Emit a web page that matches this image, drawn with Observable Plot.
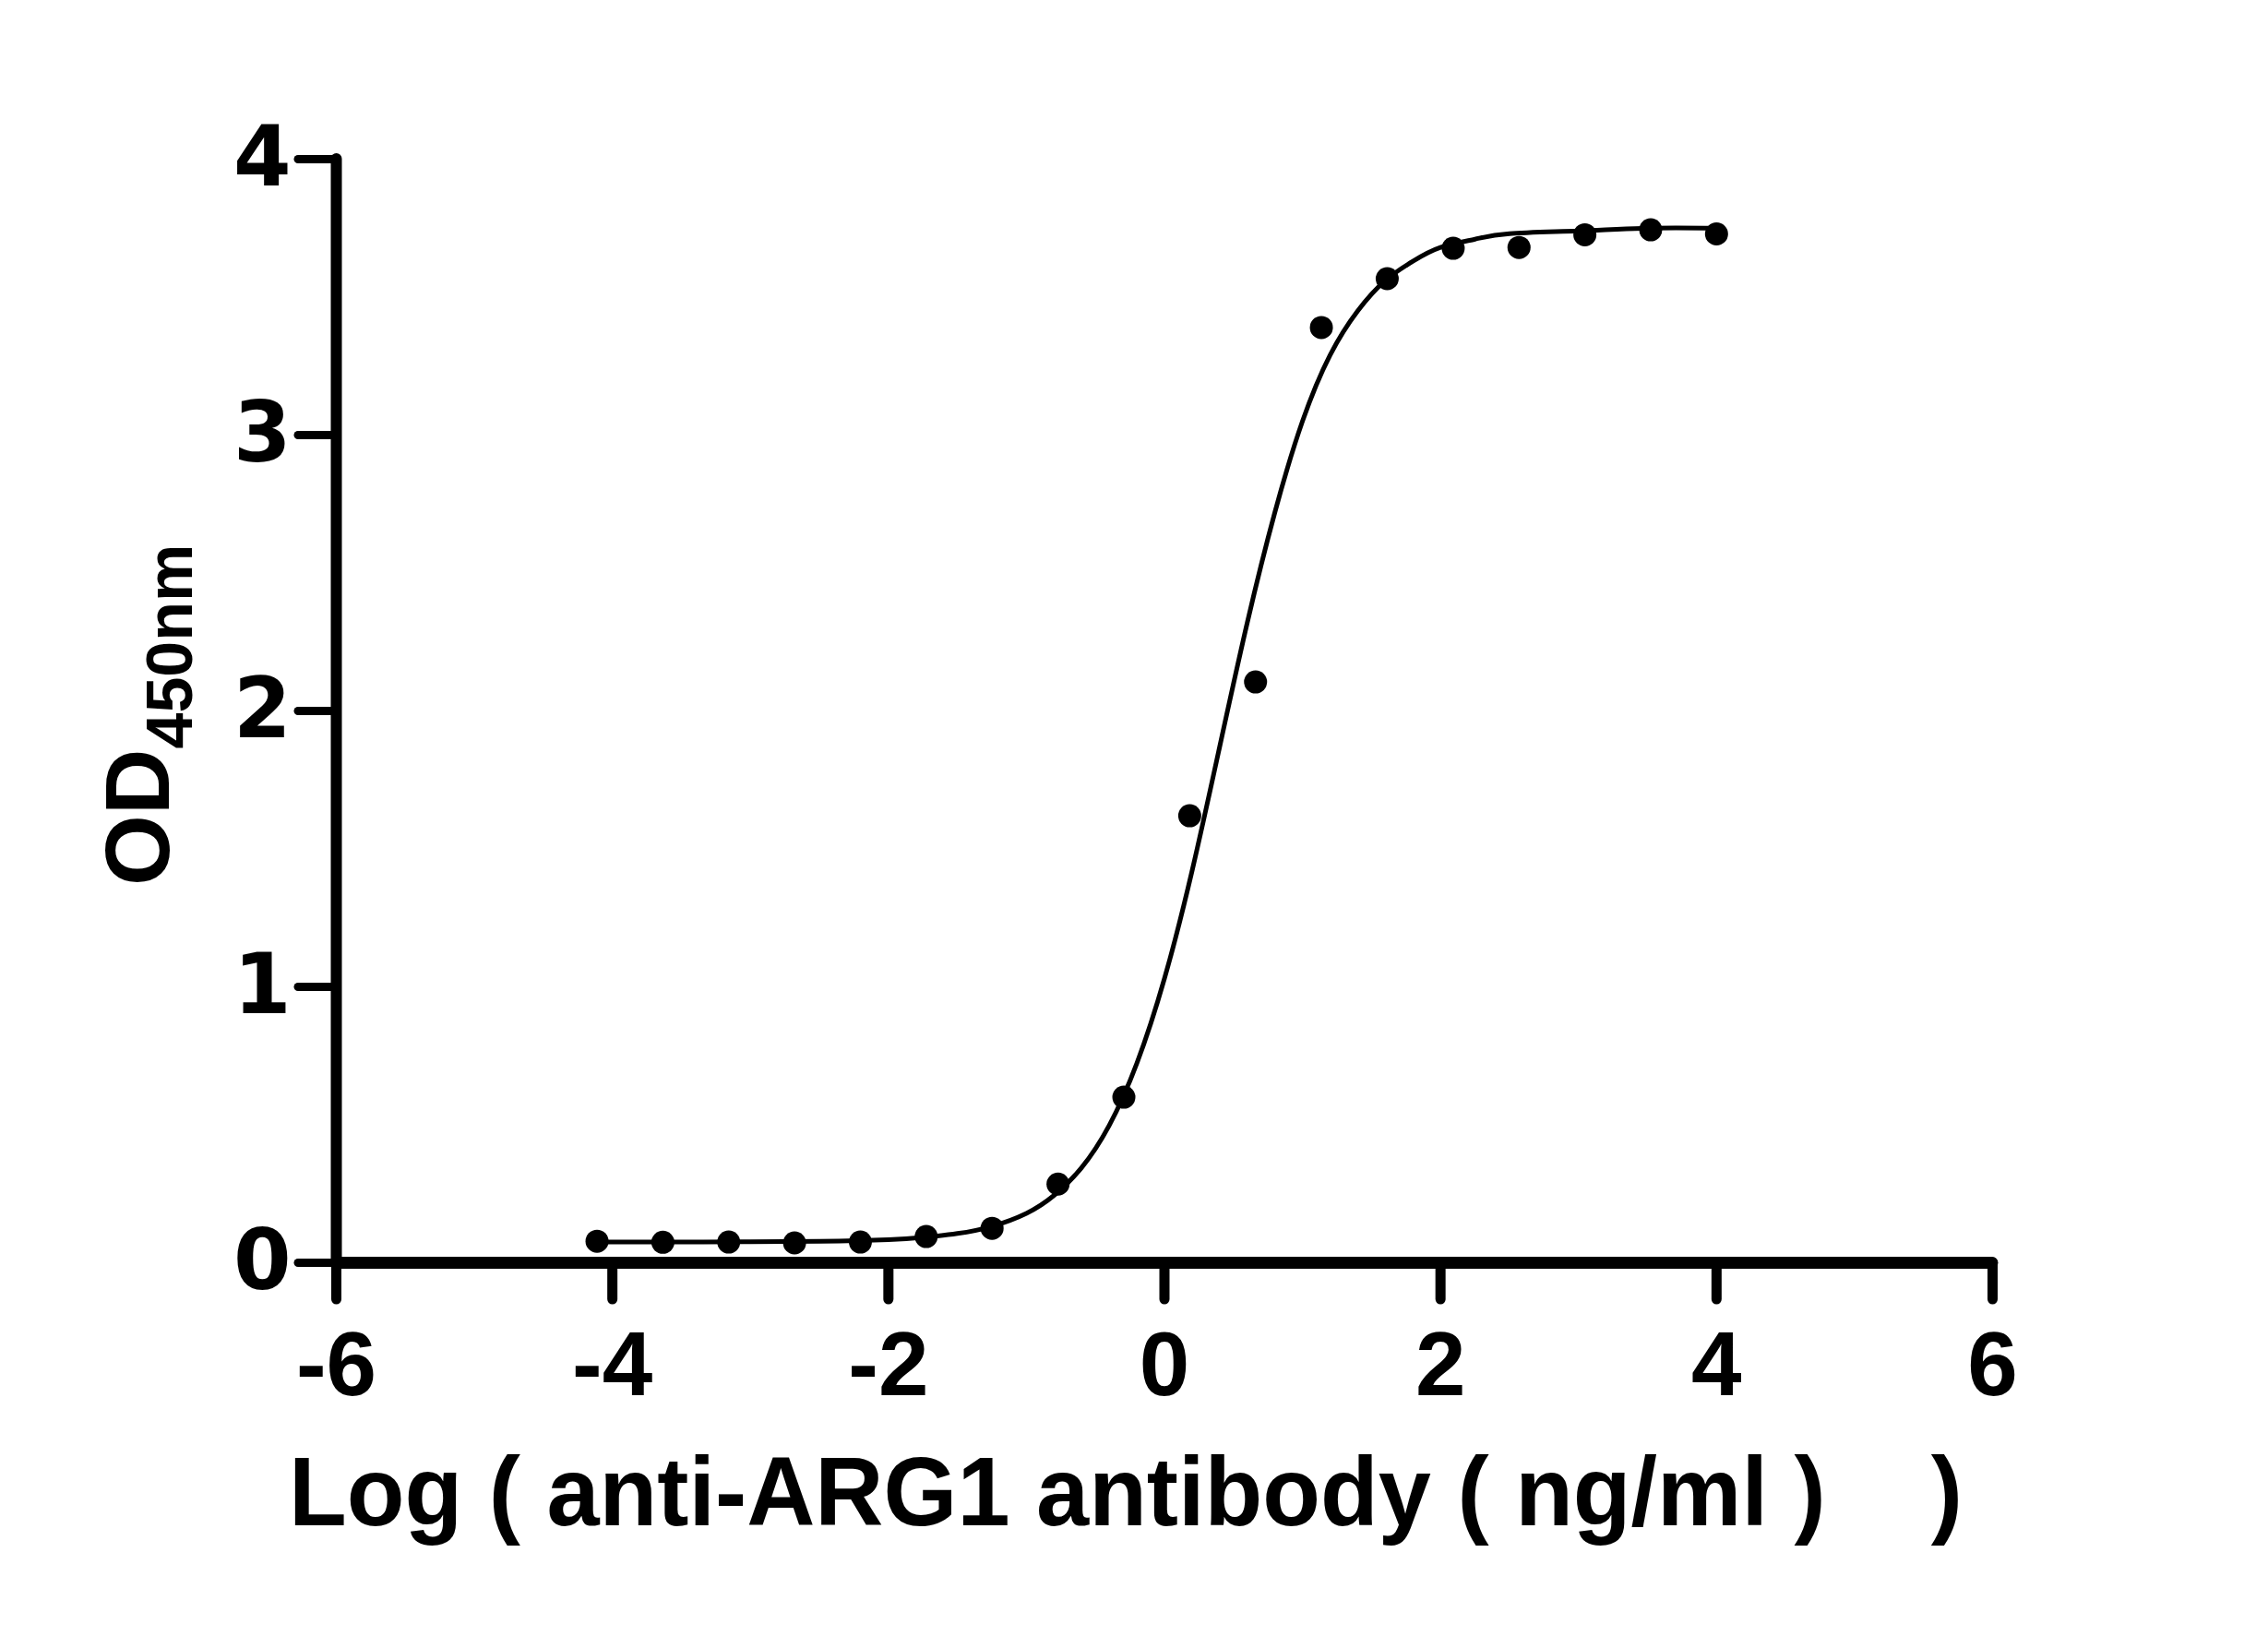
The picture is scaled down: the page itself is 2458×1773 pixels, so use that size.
<!DOCTYPE html>
<html>
<head>
<meta charset="utf-8">
<script src="https://cdn.jsdelivr.net/npm/d3@7"></script>
<script src="https://cdn.jsdelivr.net/npm/@observablehq/plot@0.6"></script>
<style>
  html, body { margin: 0; padding: 0; background: white; }
  #chart svg text { white-space: pre; }
</style>
</head>
<body>
<div id="chart"></div>
<script>
// Measured points: log10 concentration (3-fold dilutions from 10^4 ng/ml) and OD450
const logConc = [-4.111, -3.634, -3.157, -2.680, -2.203, -1.726, -1.249, -0.771, -0.294,
                 0.183, 0.660, 1.137, 1.614, 2.092, 2.569, 3.046, 3.523, 4.000];
const od450 = [0.078, 0.074, 0.075, 0.072, 0.075, 0.095, 0.125, 0.285, 0.600,
               1.620, 2.105, 3.390, 3.567, 3.677, 3.680, 3.726, 3.744, 3.729];

// Fitted curve
const curveX = [-4.11, -3.5, -3.0, -2.5, -2.0, -1.75, -1.5, -1.25, -1.0, -0.8, -0.6, -0.4, -0.2,
                0.0, 0.2, 0.4, 0.6, 0.8, 1.0, 1.2, 1.4, 1.6, 1.8, 2.0, 2.25, 2.5, 3.0, 3.5, 4.0];
const curveY = [0.075, 0.075, 0.076, 0.078, 0.084, 0.092, 0.106, 0.132, 0.179, 0.244, 0.345, 0.498, 0.723,
                1.03, 1.42, 1.87, 2.32, 2.72, 3.05, 3.29, 3.45, 3.56, 3.63, 3.68, 3.71, 3.73, 3.74, 3.75, 3.75];

const xTicks = [-6, -4, -2, 0, 2, 4, 6];
const yTicks = [0, 1, 2, 3, 4];
const xLabel = "Log ( anti-ARG1 antibody ( ng/ml )    )";
const yLabelMain = "OD";
const yLabelSub = "450nm";

const points = logConc.map((x, i) => ({x, y: od450[i]}));
const curve = curveX.map((x, i) => ({x, y: curveY[i]}));

const ARIAL = "'Liberation Sans', Arial, sans-serif";
const VERDANA = "'DejaVu Sans', Verdana, sans-serif";

const svg = Plot.plot({
  width: 2458,
  height: 1773,
  marginLeft: 364,
  marginRight: 299,
  marginTop: 172,
  marginBottom: 405,
  style: {background: "white", color: "black"},
  x: {domain: [-6, 6]},
  y: {domain: [0, 4]},
  marks: [
    Plot.axisX(xTicks, {tickSize: 40, tickPadding: 34, fontSize: 98, fontFamily: ARIAL, fontWeight: "bold",
      strokeWidth: 11, strokeLinecap: "round", tickFormat: d => String(d), label: null}),
    Plot.axisY(yTicks, {tickSize: 41, tickPadding: 8, fontSize: 90, fontFamily: VERDANA, fontWeight: "bold",
      strokeWidth: 9, strokeLinecap: "round", tickFormat: d => String(d), label: null}),
    Plot.ruleY([0], {x1: -6, x2: 6, strokeWidth: 13, strokeLinecap: "round"}),
    Plot.ruleX([-6], {y1: 0, y2: 4, strokeWidth: 12, strokeLinecap: "round"}),
    Plot.line(curve, {x: "x", y: "y", curve: "natural", stroke: "black", strokeWidth: 5}),
    Plot.dot(points, {x: "x", y: "y", r: 12.5, fill: "black", stroke: null})
  ]
});

const sel = d3.select(svg);
sel.selectAll('g[aria-label="x-axis tick label"]').attr("font-family", ARIAL).attr("font-size", 98).attr("font-weight", "bold");
sel.selectAll('g[aria-label="y-axis tick label"]').attr("font-family", VERDANA).attr("font-size", 90).attr("font-weight", "bold");

// x axis title
sel.append("text")
  .attr("x", 313).attr("y", 1653)
  .attr("text-anchor", "start")
  .attr("font-family", ARIAL).attr("font-size", 106).attr("font-weight", "bold")
  .attr("fill", "black")
  .attr("textLength", 1814).attr("lengthAdjust", "spacingAndGlyphs")
  .style("white-space", "pre")
  .text(xLabel);

// y axis title with subscript
const yt = sel.append("text")
  .attr("transform", "translate(183,960) rotate(-90)")
  .attr("text-anchor", "start")
  .attr("font-family", ARIAL).attr("font-weight", "bold").attr("fill", "black");
yt.append("tspan").attr("font-size", 99).text(yLabelMain);
yt.append("tspan").attr("font-size", 70).attr("dy", 25).text(yLabelSub);

document.getElementById("chart").appendChild(svg);
</script>
</body>
</html>
